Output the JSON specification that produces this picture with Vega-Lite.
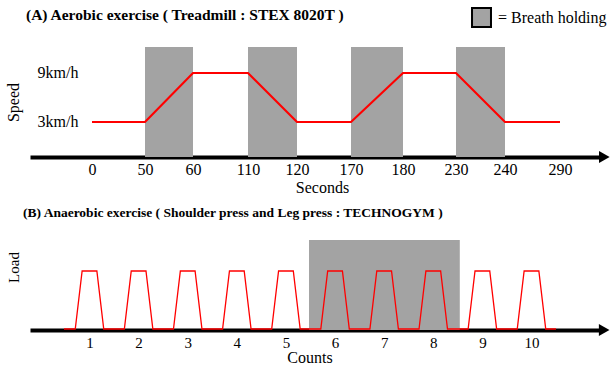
{
  "$schema": "https://vega.github.io/schema/vega-lite/v6.json",
  "background": "white",
  "padding": {"left": 5, "top": 7, "right": 0, "bottom": 0},
  "bounds": "flush",
  "spacing": 83,
  "config": {
    "view": {"stroke": null},
    "font": "Liberation Serif, serif",
    "axis": {"grid": false, "labelFont": "Liberation Serif, serif", "titleFont": "Liberation Serif, serif", "labelColor": "black", "titleColor": "black", "titleFontWeight": "normal"},
    "legend": {"labelFont": "Liberation Serif, serif"},
    "title": {"font": "Liberation Serif, serif"}
  },
  "datasets": {
    "speed": [
      {"sec": 0, "speed": 3}, {"sec": 50, "speed": 3}, {"sec": 60, "speed": 9}, {"sec": 110, "speed": 9},
      {"sec": 120, "speed": 3}, {"sec": 170, "speed": 3}, {"sec": 180, "speed": 9}, {"sec": 230, "speed": 9},
      {"sec": 240, "speed": 3}, {"sec": 290, "speed": 3}
    ],
    "holdA": [
      {"start": 50, "end": 60, "label": "Breath holding"},
      {"start": 110, "end": 120, "label": "Breath holding"},
      {"start": 170, "end": 180, "label": "Breath holding"},
      {"start": 230, "end": 240, "label": "Breath holding"}
    ],
    "load": [
      {"count": 0.48, "load": 0},
      {"count": 0.71, "load": 0}, {"count": 0.85, "load": 1}, {"count": 1.15, "load": 1}, {"count": 1.29, "load": 0},
      {"count": 1.71, "load": 0}, {"count": 1.85, "load": 1}, {"count": 2.15, "load": 1}, {"count": 2.29, "load": 0},
      {"count": 2.71, "load": 0}, {"count": 2.85, "load": 1}, {"count": 3.15, "load": 1}, {"count": 3.29, "load": 0},
      {"count": 3.71, "load": 0}, {"count": 3.85, "load": 1}, {"count": 4.15, "load": 1}, {"count": 4.29, "load": 0},
      {"count": 4.71, "load": 0}, {"count": 4.85, "load": 1}, {"count": 5.15, "load": 1}, {"count": 5.29, "load": 0},
      {"count": 5.71, "load": 0}, {"count": 5.85, "load": 1}, {"count": 6.15, "load": 1}, {"count": 6.29, "load": 0},
      {"count": 6.71, "load": 0}, {"count": 6.85, "load": 1}, {"count": 7.15, "load": 1}, {"count": 7.29, "load": 0},
      {"count": 7.71, "load": 0}, {"count": 7.85, "load": 1}, {"count": 8.15, "load": 1}, {"count": 8.29, "load": 0},
      {"count": 8.71, "load": 0}, {"count": 8.85, "load": 1}, {"count": 9.15, "load": 1}, {"count": 9.29, "load": 0},
      {"count": 9.71, "load": 0}, {"count": 9.85, "load": 1}, {"count": 10.15, "load": 1}, {"count": 10.29, "load": 0},
      {"count": 10.5, "load": 0}
    ],
    "holdB": [{"start": 5.47, "end": 8.54}]
  },
  "vconcat": [
    {
      "width": 570,
      "height": 110,
      "title": {"text": "(A) Aerobic exercise ( Treadmill : STEX 8020T )", "anchor": "start", "frame": "group", "dx": -4, "offset": 17, "fontSize": 15.5, "font": "Liberation Serif, serif", "fontWeight": "bold", "color": "black", "baseline": "middle"},
      "layer": [
        {
          "data": {"name": "holdA"},
          "mark": {"type": "rect"},
          "encoding": {
            "x": {
              "field": "start", "type": "quantitative",
              "scale": {"domain": [-58, 0, 50, 60, 110, 120, 170, 180, 230, 240, 290, 327], "range": [0, 62, 115, 163, 218, 267, 321, 373, 426, 475, 530, 570], "zero": false, "nice": false},
              "axis": {"values": [0, 50, 60, 110, 120, 170, 180, 230, 240, 290], "ticks": false, "tickSize": 0, "domainColor": "black", "domainWidth": 4, "labelFont": "Liberation Serif, serif", "labelFontSize": 16, "labelPadding": 4, "labelOverlap": false, "labelFlush": false, "title": "Seconds", "titleFont": "Liberation Serif, serif", "titleFontSize": 16, "titleX": 292, "titleY": 30, "titleBaseline": "middle"}
            },
            "x2": {"field": "end"},
            "color": {
              "field": "label", "type": "nominal",
              "scale": {"range": ["#a3a3a3"]},
              "legend": {"orient": "none", "legendX": 441, "legendY": -40, "title": null, "symbolType": "square", "symbolSize": 360, "symbolStrokeColor": "black", "symbolStrokeWidth": 2, "symbolOpacity": 1, "labelFont": "Liberation Serif, serif", "labelFontSize": 16, "labelColor": "black", "labelOffset": 6, "labelExpr": "'= ' + datum.label"}
            }
          }
        },
        {
          "data": {"name": "speed"},
          "mark": {"type": "line", "color": "#ff0000", "strokeWidth": 2.2},
          "encoding": {
            "x": {"field": "sec", "type": "quantitative"},
            "y": {
              "field": "speed", "type": "quantitative",
              "scale": {"domain": [-1.286, 12.18], "zero": false, "nice": false},
              "axis": {"values": [3, 9], "labelExpr": "datum.value + 'km/h'", "labelAlign": "right", "labelBaseline": "middle", "labelPadding": -48, "labelFont": "Liberation Serif, serif", "labelFontSize": 16, "ticks": false, "tickSize": 0, "domain": false, "title": "Speed", "titleFont": "Liberation Serif, serif", "titleFontSize": 16, "titleAngle": -90, "titleX": -17, "titleY": 55, "titleBaseline": "middle", "titleAlign": "center"}
            }
          }
        },
        {
          "data": {"values": [{}]},
          "mark": {"type": "point", "shape": "triangle-right", "filled": true, "color": "black", "size": 150, "opacity": 1},
          "encoding": {"x": {"datum": 331, "type": "quantitative"}, "y": {"value": "height"}}
        }
      ]
    },
    {
      "width": 570,
      "height": 90,
      "title": {"text": "(B) Anaerobic exercise ( Shoulder press and Leg press : TECHNOGYM )", "anchor": "start", "frame": "group", "dx": -7, "offset": 14, "fontSize": 13.5, "font": "Liberation Serif, serif", "fontWeight": "bold", "color": "black", "baseline": "middle"},
      "layer": [
        {
          "data": {"name": "holdB"},
          "mark": {"type": "rect", "color": "#a3a3a3"},
          "encoding": {
            "x": {
              "field": "start", "type": "quantitative",
              "scale": {"domain": [-0.2115, 11.395], "zero": false, "nice": false},
              "axis": {"values": [1, 2, 3, 4, 5, 6, 7, 8, 9, 10], "ticks": false, "tickSize": 0, "domainColor": "black", "domainWidth": 4, "labelFont": "Liberation Serif, serif", "labelFontSize": 15, "labelPadding": 5, "labelOverlap": false, "labelFlush": false, "title": "Counts", "titleFont": "Liberation Serif, serif", "titleFontSize": 16, "titleX": 279.5, "titleY": 27, "titleBaseline": "middle"}
            },
            "x2": {"field": "end"}
          }
        },
        {
          "data": {"name": "load"},
          "mark": {"type": "line", "color": "#ff0000", "strokeWidth": 1.3},
          "encoding": {
            "x": {"field": "count", "type": "quantitative"},
            "y": {
              "field": "load", "type": "quantitative",
              "scale": {"domain": [-0.017, 1.534], "zero": false, "nice": false},
              "axis": {"labels": false, "ticks": false, "tickSize": 0, "domain": false, "title": "Load", "titleFont": "Liberation Serif, serif", "titleFontSize": 15, "titleAngle": -90, "titleX": -17, "titleY": 27, "titleBaseline": "middle", "titleAlign": "center"}
            }
          }
        },
        {
          "data": {"values": [{}]},
          "mark": {"type": "point", "shape": "triangle-right", "filled": true, "color": "black", "size": 150, "opacity": 1},
          "encoding": {"x": {"datum": 11.48, "type": "quantitative"}, "y": {"value": "height"}}
        }
      ]
    }
  ]
}
